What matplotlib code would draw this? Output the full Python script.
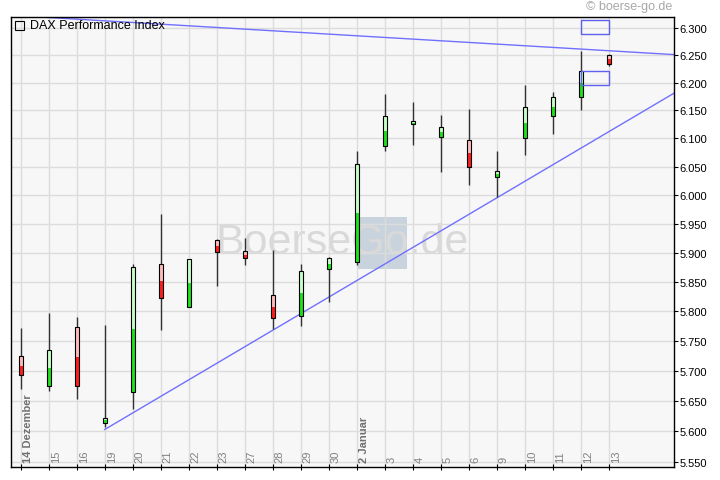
import matplotlib
matplotlib.use("Agg")
import matplotlib.pyplot as plt
from matplotlib.patches import Rectangle
from matplotlib.ticker import NullLocator, FixedLocator
import matplotlib.transforms as mtransforms

plt.rcParams['font.family'] = ['Liberation Sans', 'DejaVu Sans']

# ---- data ----
dates = ["14 Dezember", "15", "16", "19", "20", "21", "22", "23", "27", "28", "29",
         "30", "2 Januar", "3", "4", "5", "6", "9", "10", "11", "12", "13"]
bold_labels = ["14 Dezember", "2 Januar"]
opens  = [5724, 5674, 5773, 5614, 5664, 5880, 5807, 5922, 5903, 5827, 5792,
          5871, 5883, 6087, 6125, 6102, 6097, 6031, 6100, 6140, 6175, 6251]
highs  = [5772, 5796, 5790, 5777, 5880, 5967, 5889, 5923, 5925, 5905, 5880,
          5892, 6077, 6179, 6165, 6142, 6153, 6078, 6195, 6184, 6258, 6252]
lows   = [5670, 5667, 5653, 5607, 5637, 5768, 5807, 5843, 5878, 5769, 5775,
          5816, 5879, 6077, 6089, 6041, 6017, 5996, 6071, 6108, 6150, 6231]
closes = [5693, 5734, 5674, 5622, 5875, 5822, 5889, 5901, 5890, 5788, 5868,
          5890, 6055, 6140, 6131, 6120, 6050, 6042, 6156, 6174, 6222, 6234]

y_ticks = [5550, 5600, 5650, 5700, 5750, 5800, 5850, 5900, 5950, 6000,
           6050, 6100, 6150, 6200, 6250, 6300]
y_tick_labels = ["5.550", "5.600", "5.650", "5.700", "5.750", "5.800", "5.850",
                 "5.900", "5.950", "6.000", "6.050", "6.100", "6.150", "6.200",
                 "6.250", "6.300"]

# trend lines (x in trading-day index, y in points)
resist_x = [0.7, 23.33]
resist_y = [6320, 6251]
support_x = [3.0, 23.33]
support_y = [5603, 6181]
# marker boxes
box_x = [20, 20]
box_w = [1, 1]
box_lo = [6289, 6196]
box_hi = [6315, 6222]

title = "DAX Performance Index"

# ---- figure ----
W, H = 720, 481
fig = plt.figure(figsize=(W / 100, H / 100), dpi=100)
fig.patch.set_facecolor('white')
L, R, T, B = 11, 674, 18, 468
ax = fig.add_axes([L / W, 1 - B / H, (R - L) / W, (B - T) / H])
ax.set_facecolor('#f7f7f7')
ax.set_yscale('log')
ax.set_xlim(-0.346, 23.33)
ax.set_ylim(5542, 6320)

# grid
ax.yaxis.set_major_locator(FixedLocator(y_ticks))
ax.yaxis.set_minor_locator(NullLocator())
ax.set_yticks(y_ticks)
ax.set_yticklabels(y_tick_labels)
xs = list(range(len(dates)))
ax.set_xticks(xs)
ax.set_xticklabels([""] * len(xs))
ax.grid(True, color='#dcdcdc', linewidth=1.0)
ax.set_axisbelow(True)

ax.yaxis.tick_right()
ax.tick_params(axis='y', which='major', direction='out', length=3, width=0.8,
               pad=1, labelsize=8, colors='black')
ax.tick_params(axis='x', which='major', direction='inout', length=5, width=0.8)
for s in ax.spines.values():
    s.set_color('black')
    s.set_linewidth(1.0)

# watermark
ax.add_patch(Rectangle(((358 - L) / (R - L), 1 - (270 - T) / (B - T)),
                       (407 - 358) / (R - L), (270 - 217.7) / (B - T),
                       transform=ax.transAxes, facecolor='#c9d3dd',
                       edgecolor='none', zorder=0.2))
ax.text((342 - L) / (R - L), (B - 243) / (B - T), "BoerseGo.de",
        transform=ax.transAxes, ha='center', va='center', fontsize=31,
        color='#d9d9d9', zorder=0.3)

# trend lines
ax.plot(resist_x, resist_y, color='#7070ff', linewidth=1.0, zorder=2)
ax.plot(support_x, support_y, color='#7070ff', linewidth=1.0, zorder=2)

# candles
bw = 0.13
for i in xs:
    o, h, l, c = opens[i], highs[i], lows[i], closes[i]
    ax.vlines(i, l, h, color='#333333', linewidth=1.0, zorder=3)
    top, bot = max(o, c), min(o, c)
    mid = (top + bot) / 2
    if c >= o:
        light, dark = '#c6ffc6', '#1ee01e'
    else:
        light, dark = '#ffbcbc', '#ff1e1e'
    ax.bar(i, top - mid, bottom=mid, width=bw, color=light, linewidth=0, zorder=4)
    ax.bar(i, mid - bot, bottom=bot, width=bw, color=dark, linewidth=0, zorder=4)
    ax.bar(i, top - bot, bottom=bot, width=bw, fill=False, edgecolor='black',
           linewidth=0.8, zorder=5)

# marker boxes
for x0, w0, lo, hi in zip(box_x, box_w, box_lo, box_hi):
    ax.add_patch(Rectangle((x0, lo), w0, hi - lo, fill=False,
                           edgecolor='#6060f0', linewidth=1.0, zorder=6))

# date labels inside the axes
offs = mtransforms.offset_copy(ax.get_xaxis_transform(), fig=fig, x=2, y=0,
                               units='dots')
for i, d in enumerate(dates):
    bold = d in bold_labels
    ax.text(i, (B - 463) / (B - T), d, transform=offs, rotation=90,
            ha='left', va='bottom', fontsize=8,
            fontweight='bold' if bold else 'normal',
            color='#707070' if bold else '#808080', zorder=7)

# legend
ax.add_patch(Rectangle(((15 - L) / (R - L), (B - 31) / (B - T)), 9 / (R - L),
                       9 / (B - T), transform=ax.transAxes, fill=False,
                       edgecolor='black', linewidth=0.8, zorder=8))
ax.text((30 - L) / (R - L), (B - 26) / (B - T), title, transform=ax.transAxes,
        ha='left', va='center', fontsize=9, color='black', zorder=8)

fig.text(672 / W, 1 - 7 / H, "\u00a9 boerse-go.de", ha='right', va='center',
         fontsize=9, color='#a8a8a8')

fig.savefig("out.png", dpi=100)
